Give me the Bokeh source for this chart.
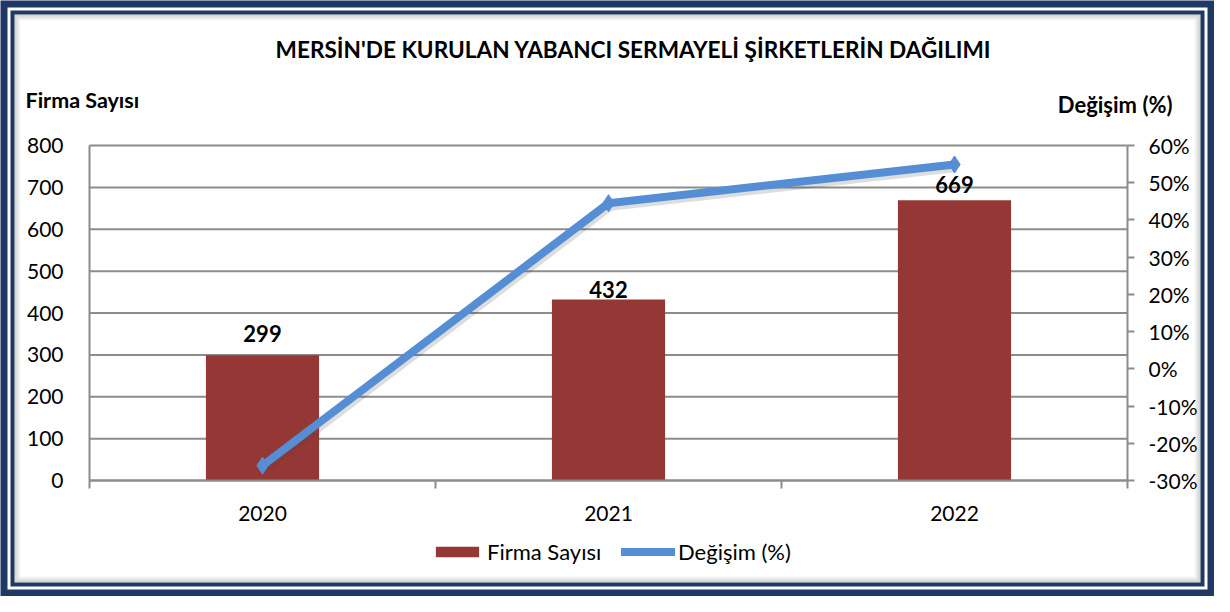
from bokeh.plotting import figure
from bokeh.models import (Range1d, LinearAxis, FixedTicker, Label, BoxAnnotation,
                          Legend, LegendItem)
from bokeh.core.properties import value
from bokeh.embed import file_html
from bokeh.resources import INLINE

# ---- data ----
categories = ["2020", "2021", "2022"]
firma_sayisi = [299, 432, 669]
degisim = [-26.0, 44.5, 54.9]
left_ticks = [0, 100, 200, 300, 400, 500, 600, 700, 800]
right_ticks = [-30, -20, -10, 0, 10, 20, 30, 40, 50, 60]
right_tick_labels = ["-30%", "-20%", "-10%", "0%", "10%", "20%", "30%", "40%", "50%", "60%"]
title_text = "MERSİN'DE KURULAN YABANCI SERMAYELİ ŞİRKETLERİN DAĞILIMI"
left_title = "Firma Sayısı"
right_title = "Değişim (%)"

# label vertical offsets (pixels, style only)
label_dy = [-22, -10, -16]

FONT = "Lato"
NAVY = "#1F3864"
GRAY = "#8C8C8C"
BAR = "#953735"
LINE = "#558ED5"

W, H = 1214, 596
# plot area in canvas pixels
PL, PR, PT, PB = 89, 1127, 145, 480
n = len(categories)
xs = list(range(n))
ymin, ymax = left_ticks[0], left_ticks[-1]
pmin, pmax = right_ticks[0], right_ticks[-1]

# extend ranges so the frame covers the whole canvas
xpp = n / (PR - PL)               # data units per pixel (x)
ypp = (ymax - ymin) / (PB - PT)   # data units per pixel (y)
ppp = (pmax - pmin) / (PB - PT)
x_range = Range1d(-0.5 - PL * xpp, n - 0.5 + (W - PR) * xpp)
y_range = Range1d(ymin - (H - PB) * ypp, ymax + PT * ypp)
pct_range = Range1d(pmin - (H - PB) * ppp, pmax + PT * ppp)


def X(px):
    return x_range.start + px * xpp


def Y(py):
    return y_range.end - py * ypp


p = figure(width=W, height=H, output_backend="svg", toolbar_location=None,
           x_range=x_range, y_range=y_range, x_axis_type=None, y_axis_type=None,
           min_border=0, min_border_left=0, min_border_right=0,
           min_border_top=0, min_border_bottom=0)
p.extra_y_ranges = {"pct": pct_range}
p.border_fill_color = NAVY
p.background_fill_color = NAVY
p.outline_line_color = None
p.grid.visible = False

# frame decoration
def box(l, t, r, b, **kw):
    return BoxAnnotation(left=X(l), right=X(r), top=Y(t), bottom=Y(b), level="image",
                         **kw)

p.add_layout(box(7, 7, W - 7, H - 7, fill_color="white", fill_alpha=1, line_color=None))
p.add_layout(box(10, 10, W - 10, H - 10, fill_color=NAVY, fill_alpha=1, line_color=None))
p.add_layout(box(14, 14, W - 14, H - 14, fill_color="white", fill_alpha=1, line_color=None))
for i in range(6):
    p.add_layout(box(14.5 + i, 14.5 + i, W - 14.5 - i, H - 14.5 - i, fill_alpha=0,
                     line_color="#606060", line_alpha=0.30 * (1 - i / 6), line_width=1))

# gridlines
p.segment(x0=-0.5, x1=n - 0.5, y0=left_ticks, y1=left_ticks, line_color=GRAY, line_width=2)

# axes
lax = LinearAxis(ticker=FixedTicker(ticks=left_ticks), fixed_location=-0.5, bounds=(ymin, ymax))
lax.axis_line_color = GRAY
lax.axis_line_width = 2
lax.major_tick_line_color = None
lax.minor_tick_line_color = None
lax.major_label_standoff = 20
lax.major_label_text_font = FONT
lax.major_label_text_font_size = "21px"
lax.major_label_text_color = "black"
p.add_layout(lax, "left")

rax = LinearAxis(y_range_name="pct", ticker=FixedTicker(ticks=right_ticks),
                 fixed_location=n - 0.5, bounds=(pmin, pmax))
rax.major_label_overrides = {t: s for t, s in zip(right_ticks, right_tick_labels)}
rax.axis_line_color = GRAY
rax.axis_line_width = 2
rax.major_tick_line_color = GRAY
rax.major_tick_line_width = 2
rax.major_tick_in = 0
rax.major_tick_out = 7
rax.minor_tick_line_color = None
rax.major_label_standoff = 14
rax.major_label_text_font = FONT
rax.major_label_text_font_size = "21px"
rax.major_label_text_color = "black"
p.add_layout(rax, "right")

bax = LinearAxis(ticker=FixedTicker(ticks=xs, minor_ticks=[x - 0.5 for x in xs] + [n - 0.5]),
                 fixed_location=ymin, bounds=(-0.5, n - 0.5))
bax.major_label_overrides = {x: c for x, c in zip(xs, categories)}
bax.axis_line_color = GRAY
bax.axis_line_width = 2
bax.major_tick_line_color = None
bax.minor_tick_line_color = GRAY
bax.minor_tick_line_width = 2
bax.minor_tick_in = 0
bax.minor_tick_out = 8
bax.major_label_standoff = 17
bax.major_label_text_font = FONT
bax.major_label_text_font_size = "21px"
bax.major_label_text_color = "black"
p.add_layout(bax, "below")

bars = p.vbar(x=xs, top=firma_sayisi, width=0.327, fill_color=BAR, line_color=None)
# soft shadow under the line
p.line([x + 2 * xpp for x in xs], [v - 3 * ppp for v in degisim], y_range_name="pct",
       line_width=9, line_color="#404040", line_alpha=0.18)
line = p.line(xs, degisim, y_range_name="pct", line_width=8, line_color=LINE,
              line_cap="round")
marks = p.scatter(xs, degisim, y_range_name="pct", marker="diamond", size=17,
                  fill_color=LINE, line_color=LINE)
p.text(x=xs, y=firma_sayisi, text=[str(v) for v in firma_sayisi], text_align="center",
       text_baseline="middle", y_offset=label_dy, text_font=value(FONT),
       text_font_style="bold", text_font_size="22px", text_color="black")

# titles
p.add_layout(Label(x=X(633), y=Y(49), text=title_text,
                   text_align="center", text_baseline="middle", text_font=FONT,
                   text_font_style="bold", text_font_size="22.6px", text_color="black"))
p.add_layout(Label(x=X(25), y=Y(99), text=left_title,
                   text_align="left", text_baseline="middle", text_font=FONT,
                   text_font_style="bold", text_font_size="21.5px", text_color="black"))
p.add_layout(Label(x=X(1172), y=Y(104), text=right_title,
                   text_align="right", text_baseline="middle", text_font=FONT,
                   text_font_style="bold", text_font_size="22px", text_color="black"))

# legends (location in pixels from the bottom-left of the frame)
for items, loc in [([LegendItem(label="Firma Sayısı", renderers=[bars])], (430, H - 565)),
                   ([LegendItem(label="Değişim (%)", renderers=[line, marks])], (621, H - 565))]:
    lg = Legend(items=items, location=loc, orientation="horizontal", glyph_width=54,
                glyph_height=13, label_text_font=FONT, label_text_font_size="22px",
                label_text_color="black", padding=0, margin=0, border_line_color=None,
                background_fill_alpha=0, label_standoff=3, label_height=22)
    p.add_layout(lg)

open("out.html", "w").write(file_html(p, INLINE))
